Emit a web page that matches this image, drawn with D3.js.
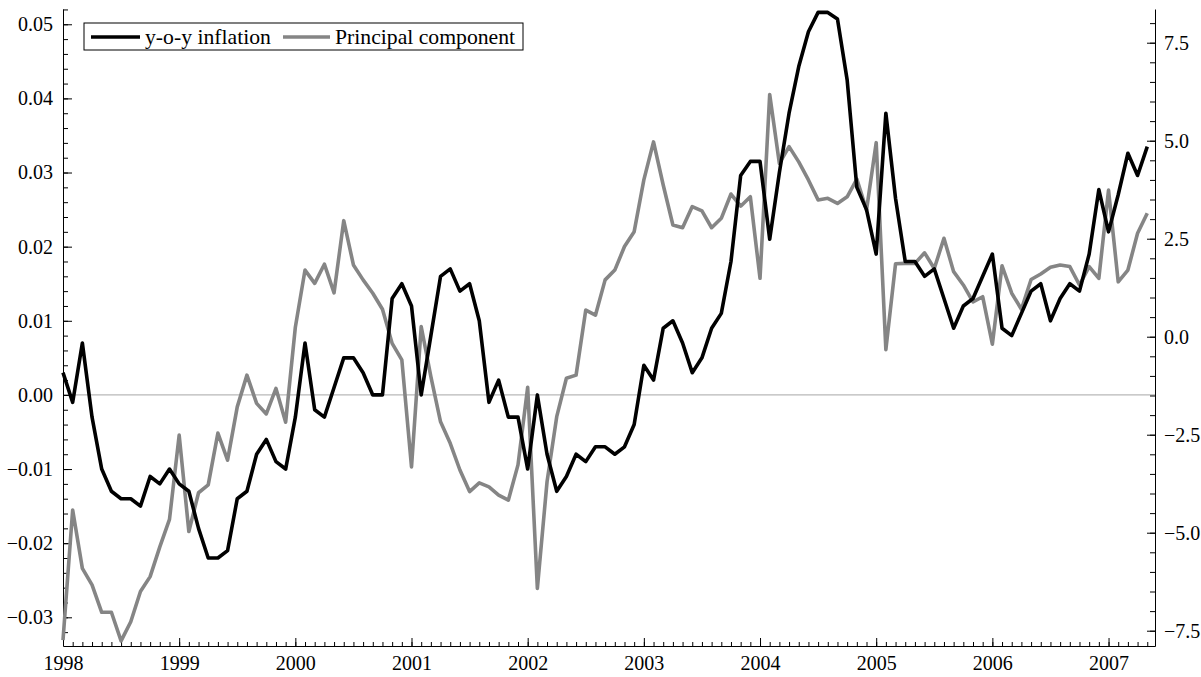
<!DOCTYPE html>
<html>
<head>
<meta charset="utf-8">
<script src="https://cdn.jsdelivr.net/npm/d3@7"></script>
<style>
  body { margin: 0; background: #fff; }
  svg { display: block; }
</style>
</head>
<body>
<div id="chart"></div>
<script>
// monthly observations, Jan 1998 .. May 2007
var startYear = 1998;

// y-o-y inflation (left axis)
var inflation = [
  0.003, -0.001, 0.007, -0.003, -0.010, -0.013, -0.014, -0.014, -0.015, -0.011, -0.012, -0.010,
  -0.012, -0.013, -0.018, -0.022, -0.022, -0.021, -0.014, -0.013, -0.008, -0.006, -0.009, -0.010,
  -0.003, 0.007, -0.002, -0.003, 0.001, 0.005, 0.005, 0.003, 0.000, 0.000, 0.013, 0.015,
  0.012, 0.000, 0.008, 0.016, 0.017, 0.014, 0.015, 0.010, -0.001, 0.002, -0.003, -0.003,
  -0.010, 0.000, -0.008, -0.013, -0.011, -0.008, -0.009, -0.007, -0.007, -0.008, -0.007, -0.004,
  0.004, 0.002, 0.009, 0.010, 0.007, 0.003, 0.005, 0.009, 0.011, 0.018, 0.0296, 0.0315,
  0.0315, 0.021, 0.030, 0.038, 0.0443, 0.049, 0.0516, 0.0516, 0.0507, 0.0425, 0.028, 0.025,
  0.019, 0.038, 0.0265, 0.018, 0.018, 0.016, 0.017, 0.013, 0.009, 0.012, 0.013, 0.016,
  0.019, 0.009, 0.008, 0.011, 0.014, 0.015, 0.010, 0.013, 0.015, 0.014, 0.019, 0.0277,
  0.022, 0.027, 0.0326, 0.0296, 0.0335
];

// principal component (right axis)
var component = [
  -7.74, -4.42, -5.91, -6.33, -7.03, -7.03, -7.76, -7.27, -6.50, -6.12, -5.36, -4.66,
  -2.51, -4.97, -3.98, -3.78, -2.46, -3.15, -1.79, -0.98, -1.70, -1.97, -1.32, -2.18,
  0.24, 1.70, 1.36, 1.85, 1.12, 2.96, 1.83, 1.45, 1.11, 0.70, -0.17, -0.59,
  -3.32, 0.26, -1.02, -2.17, -2.72, -3.40, -3.95, -3.73, -3.83, -4.04, -4.17, -3.27,
  -1.29, -6.42, -3.70, -2.04, -1.06, -0.98, 0.68, 0.55, 1.45, 1.70, 2.30, 2.68,
  4.00, 4.97, 3.87, 2.85, 2.78, 3.32, 3.21, 2.78, 3.02, 3.64, 3.33, 3.57,
  1.49, 6.18, 4.42, 4.85, 4.46, 4.00, 3.49, 3.53, 3.40, 3.57, 4.02, 3.23,
  4.95, -0.33, 1.86, 1.87, 1.87, 2.14, 1.74, 2.51, 1.66, 1.32, 0.89, 1.02,
  -0.19, 1.81, 1.11, 0.70, 1.46, 1.60, 1.77, 1.83, 1.79, 1.32, 1.79, 1.49,
  3.74, 1.40, 1.70, 2.64, 3.15
];

var yearTicks = [1998, 1999, 2000, 2001, 2002, 2003, 2004, 2005, 2006, 2007];
var leftTicks = [-0.03, -0.02, -0.01, 0.00, 0.01, 0.02, 0.03, 0.04, 0.05];
var rightTicks = [-7.5, -5.0, -2.5, 0.0, 2.5, 5.0, 7.5];
var seriesNames = ["y-o-y inflation", "Principal component"];

var serif = '"Liberation Serif", "Times New Roman", serif';

var width = 1201, height = 677,
    margin = {top: 9, right: 46, bottom: 31, left: 63},
    w = width - margin.left - margin.right,
    h = height - margin.top - margin.bottom;

var svg = d3.select("#chart").append("svg")
    .attr("width", width)
    .attr("height", height)
    .attr("font-family", serif);

var g = svg.append("g")
    .attr("transform", "translate(" + margin.left + "," + margin.top + ")");

var x = d3.scaleLinear().domain([0, 112.8]).range([0, w]),
    yL = d3.scaleLinear().domain([-0.03387, 0.05206]).range([h, 0]),
    yR = d3.scaleLinear().domain([-7.89, 8.36]).range([h, 0]);

var monthTicks = d3.range(0, 113);

function styleAxis(sel) {
  sel.attr("font-family", serif).attr("font-size", 20);
  sel.selectAll("text").attr("fill", "#000").style("font-family", serif).style("font-size", "20px");
  sel.selectAll("line, path").attr("stroke", "#000").attr("stroke-width", 1);
}

// zero line of the left axis
g.append("line")
    .attr("x1", 0).attr("x2", w)
    .attr("y1", yL(0)).attr("y2", yL(0))
    .attr("stroke", "#b8b8b8")
    .attr("stroke-width", 1.4);

// minor ticks
g.append("g")
    .attr("transform", "translate(0," + h + ")")
    .call(d3.axisBottom(x).tickValues(monthTicks).tickSize(-4).tickFormat(""))
    .call(styleAxis)
    .select(".domain").remove();
g.append("g")
    .call(d3.axisLeft(yL).tickValues(d3.range(-0.032, 0.0521, 0.002)).tickSize(-5).tickFormat(""))
    .call(styleAxis)
    .select(".domain").remove();
g.append("g")
    .attr("transform", "translate(" + w + ",0)")
    .call(d3.axisRight(yR).tickValues(d3.range(-7.5, 8.01, 0.5)).tickSize(-5).tickFormat(""))
    .call(styleAxis)
    .select(".domain").remove();

// major axes
g.append("g")
    .attr("transform", "translate(0," + h + ")")
    .call(d3.axisBottom(x)
      .tickValues(yearTicks.map(function(d) { return (d - startYear) * 12; }))
      .tickSizeInner(-8).tickSizeOuter(0).tickPadding(10)
      .tickFormat(function(d) { return startYear + d / 12; }))
    .call(styleAxis);

g.append("g")
    .call(d3.axisLeft(yL)
      .tickValues(leftTicks)
      .tickSizeInner(-9).tickSizeOuter(0).tickPadding(10)
      .tickFormat(d3.format(".2f")))
    .call(styleAxis);

g.append("g")
    .attr("transform", "translate(" + w + ",0)")
    .call(d3.axisRight(yR)
      .tickValues(rightTicks)
      .tickSizeInner(-8).tickSizeOuter(0).tickPadding(9)
      .tickFormat(d3.format(".1f")))
    .call(styleAxis);

// lines
var lineL = d3.line()
    .x(function(d, i) { return x(i); })
    .y(function(d) { return yL(d); });
var lineR = d3.line()
    .x(function(d, i) { return x(i); })
    .y(function(d) { return yR(d); });

g.append("path")
    .datum(component)
    .attr("fill", "none")
    .attr("stroke", "#858585")
    .attr("stroke-width", 3.6)
    .attr("stroke-linejoin", "round")
    .attr("d", lineR);

g.append("path")
    .datum(inflation)
    .attr("fill", "none")
    .attr("stroke", "#000")
    .attr("stroke-width", 3.6)
    .attr("stroke-linejoin", "round")
    .attr("d", lineL);

// legend
var legend = svg.append("g").attr("transform", "translate(84,23)");
legend.append("rect")
    .attr("width", 439).attr("height", 27)
    .attr("fill", "#fff").attr("stroke", "#000").attr("stroke-width", 1);

var items = [
  {name: seriesNames[0], color: "#000", x0: 7, x1: 56, tx: 61},
  {name: seriesNames[1], color: "#858585", x0: 199, x1: 246, tx: 251}
];
items.forEach(function(d) {
  legend.append("line")
      .attr("x1", d.x0).attr("x2", d.x1)
      .attr("y1", 14).attr("y2", 14)
      .attr("stroke", d.color).attr("stroke-width", 3.6);
  legend.append("text")
      .attr("x", d.tx).attr("y", 21)
      .style("font-family", serif)
      .style("font-size", "21.7px")
      .text(d.name);
});
</script>
</body>
</html>
